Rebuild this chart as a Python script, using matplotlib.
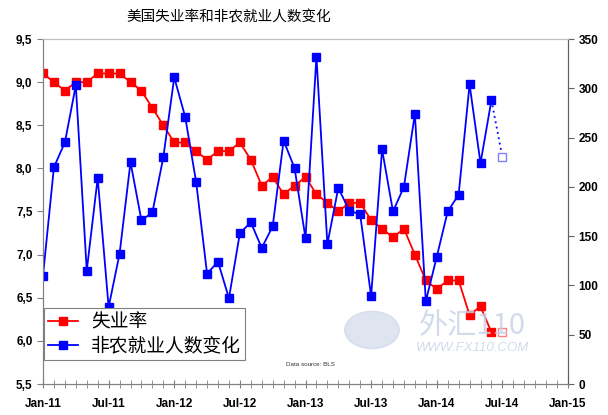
import numpy as np
import matplotlib.pyplot as plt
from matplotlib.ticker import FuncFormatter

plt.rcParams['font.family'] = ['Liberation Sans', 'DejaVu Sans']
CJK = ['Noto Sans CJK SC', 'DejaVu Sans']

# months counted from Jan-11
tick_labels = ['Jan-11', 'Jul-11', 'Jan-12', 'Jul-12', 'Jan-13',
               'Jul-13', 'Jan-14', 'Jul-14', 'Jan-15']

# unemployment rate, Jan-11 .. Jun-14, plus Jul-14 estimate
unemp = [9.1, 9.0, 8.9, 9.0, 9.0, 9.1, 9.1, 9.1, 9.0, 8.9, 8.7, 8.5,
         8.3, 8.3, 8.2, 8.1, 8.2, 8.2, 8.3, 8.1, 7.8, 7.9, 7.7, 7.8,
         7.9, 7.7, 7.6, 7.5, 7.6, 7.6, 7.4, 7.3, 7.2, 7.3, 7.0, 6.7,
         6.6, 6.7, 6.7, 6.3, 6.4, 6.1]
unemp_est = 6.1

# nonfarm payrolls change (thousands)
nfp = [110, 220, 245, 303, 115, 209, 78, 132, 225, 166, 174, 230,
       311, 271, 205, 112, 124, 87, 153, 164, 138, 160, 247, 219,
       148, 332, 142, 199, 176, 172, 89, 238, 175, 200, 274, 84,
       129, 175, 192, 304, 224, 288]
nfp_est = 230

months = np.arange(len(unemp))
est_month = len(unemp)

fig = plt.figure(figsize=(6.08, 4.15), dpi=100)
ax = fig.add_axes([43 / 608, 1 - 384 / 415, 525 / 608, 345 / 415])
ax2 = ax.twinx()

red = '#ff0000'
blue = '#0000ff'

l1, = ax.plot(months, unemp, color=red, lw=1.3, marker='s', ms=5.5,
              mec=red, mfc=red, label='失业率')
ax.plot([est_month], [unemp_est], ls='none', marker='s', ms=5.5,
        mec='#ff8080', mfc='white', mew=1)

l2, = ax2.plot(months, nfp, color=blue, lw=1.3, marker='s', ms=5.5,
               mec=blue, mfc=blue, label='非农就业人数变化')
ax2.plot([months[-1], est_month], [nfp[-1], nfp_est], color=blue,
         lw=1.3, ls=(0, (1, 2)))
ax2.plot([est_month], [nfp_est], ls='none', marker='s', ms=5.5,
         mec='#8080ff', mfc='white', mew=1)

ax.set_xlim(0, 48)
ax.set_ylim(5.5, 9.5)
ax2.set_ylim(0, 350)
ax.set_yticks(np.arange(5.5, 9.51, 0.5))
ax.yaxis.set_major_formatter(FuncFormatter(lambda v, p: f'{v:.1f}'.replace('.', ',')))
ax2.set_yticks(np.arange(0, 351, 50))

ax.set_xticks(np.arange(0, 49, 6))
ax.set_xticklabels(tick_labels)
ax.set_xticks(np.arange(0, 49, 1), minor=True)

ax.tick_params(axis='x', which='both', direction='inout', length=6,
               color='#808080', pad=7, labelsize=8.5)
ax.tick_params(axis='y', direction='out', length=4, color='#808080',
               labelsize=8.5)
ax2.tick_params(axis='y', direction='out', length=4, color='#606060',
                labelsize=8.5)
for lab in ax.get_xticklabels() + ax.get_yticklabels() + ax2.get_yticklabels():
    lab.set_fontweight('bold')

for a in (ax, ax2):
    a.spines['top'].set_color('#c0c0c0')
    a.spines['left'].set_color('#808080')
    a.spines['bottom'].set_color('#808080')
    a.spines['right'].set_color('#606060')

# watermark
fig.text(472 / 608, 1 - 334 / 415, '外汇110', family=CJK, fontsize=21,
         style='italic', color='#c8d2e6', ha='center', va='baseline',
         alpha=0.8)
fig.text(472 / 608, 1 - 351 / 415, 'WWW.FX110.COM', fontsize=9.5,
         style='italic', color='#c8d2e6', ha='center', va='baseline',
         alpha=0.8)
circ = plt.Circle((372 / 608, 1 - 330 / 415), 0.045,
                  transform=fig.transFigure, color='#c8d2e6', alpha=0.6)
fig.patches.append(circ)

leg = ax2.legend(handles=[l1, l2], loc='lower left',
                 bbox_to_anchor=(0.002, 0.07), borderaxespad=0,
                 prop={'family': CJK, 'size': 13.5}, fancybox=False,
                 framealpha=1, edgecolor='#808080', handlelength=1.6,
                 handletextpad=0.7, borderpad=0.2, labelspacing=0.12)
leg.get_frame().set_linewidth(0.8)

fig.text(286 / 608, 1 - 364 / 415, 'Data source: BLS', fontsize=4.5,
         color='#333333', va='center')

fig.text(229 / 608, 1 - 17 / 415, '美国失业率和非农就业人数变化', family=CJK,
         fontsize=10.5, ha='center', va='center')

fig.savefig('out.png', dpi=100)
